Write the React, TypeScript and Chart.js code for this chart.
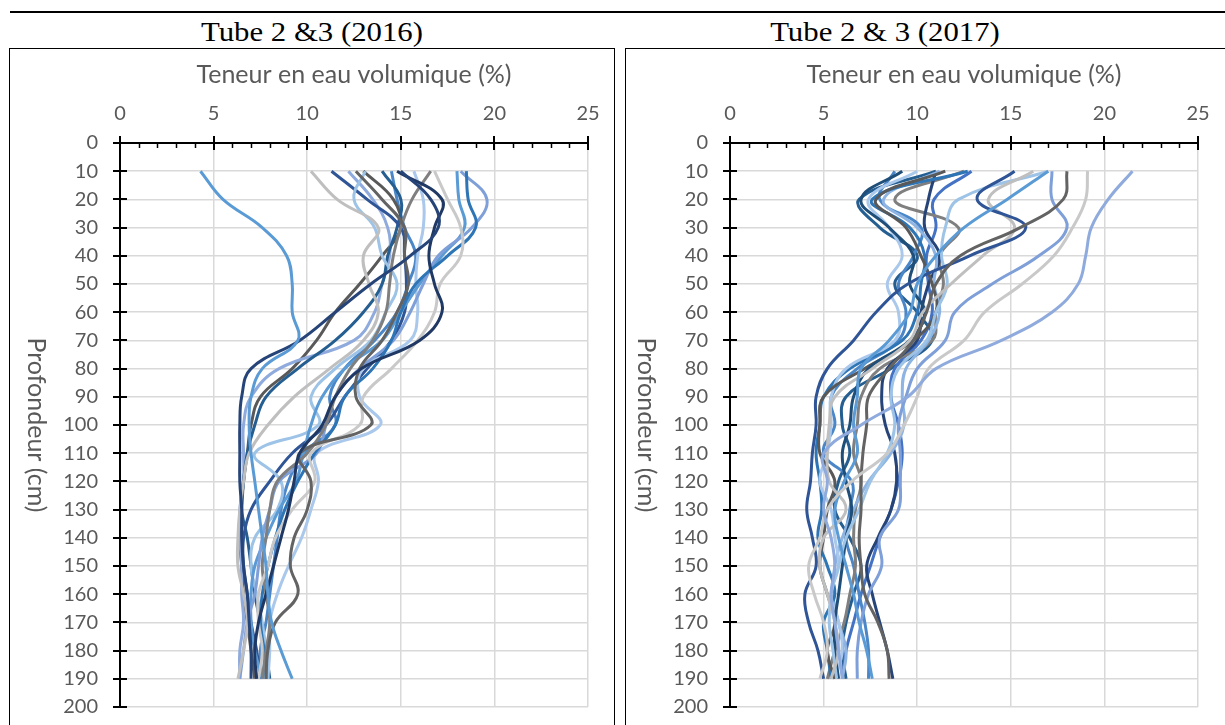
import React, { useEffect, useRef } from 'react';
import { Chart, registerables } from 'chart.js';

Chart.register(...registerables);

// ---------- shared axes ----------
const depths = [10, 20, 30, 40, 50, 60, 70, 80, 90, 100, 110, 120, 130, 140, 150, 160, 170, 180, 190];
const xTickValues = [0, 5, 10, 15, 20, 25];
const yTickValues = [0, 10, 20, 30, 40, 50, 60, 70, 80, 90, 100, 110, 120, 130, 140, 150, 160, 170, 180, 190, 200];
const xTitle = 'Teneur en eau volumique (%)';
const yTitle = 'Profondeur (cm)';
const title2016 = 'Tube 2 &3 (2016)';
const title2017 = 'Tube 2 & 3 (2017)';

// ---------- 2016 profiles (water content %, one value per depth) ----------
const s16_01 = [4.3, 5.5, 7.6, 8.9, 9.2, 9.2, 9.5, 7.6, 7.0, 6.9, 7.0, 7.2, 7.4, 7.6, 7.8, 7.9, 8.1, 8.6, 9.2];
const s16_02 = [15.0, 16.6, 17.0, 15.5, 13.4, 11.5, 9.6, 7.0, 6.5, 6.4, 6.4, 6.4, 6.5, 6.5, 6.6, 6.8, 6.9, 7.0, 7.0];
const s16_03 = [14.8, 17.2, 16.8, 16.5, 16.8, 17.2, 16.0, 12.9, 11.5, 10.8, 9.6, 9.3, 9.0, 8.6, 8.2, 7.8, 7.4, 7.2, 7.3];
const s16_04 = [12.6, 14.0, 15.2, 15.2, 15.4, 14.8, 14.0, 12.8, 12.6, 13.4, 9.6, 10.2, 10.0, 9.3, 9.1, 9.5, 8.3, 7.9, 7.8];
const s16_05 = [10.2, 11.6, 13.8, 13.0, 13.3, 13.8, 13.0, 11.2, 9.3, 7.9, 6.9, 6.6, 6.4, 6.3, 6.3, 6.6, 6.8, 6.6, 6.3];
const s16_06 = [16.8, 17.5, 18.2, 18.2, 17.1, 16.8, 15.9, 14.5, 13.0, 12.8, 10.2, 10.4, 9.2, 8.3, 7.9, 7.4, 7.4, 7.6, 7.4];
const s16_07 = [16.6, 15.6, 15.0, 14.6, 14.4, 14.2, 13.5, 12.3, 11.5, 11.0, 10.0, 8.4, 8.0, 7.8, 7.6, 7.8, 8.0, 7.8, 7.6];
const s16_08 = [18.5, 18.6, 19.0, 17.5, 15.8, 15.0, 14.5, 13.5, 12.0, 11.5, 10.4, 9.5, 8.8, 8.3, 7.9, 7.6, 7.5, 7.7, 7.8];
const s16_09 = [18.2, 19.6, 18.8, 17.0, 16.2, 15.5, 14.6, 12.8, 11.5, 11.0, 10.5, 8.5, 8.0, 7.6, 7.4, 7.2, 6.8, 6.6, 6.4];
const s16_10 = [18.0, 18.1, 18.4, 17.2, 16.0, 15.0, 14.0, 12.0, 10.8, 10.2, 9.8, 9.4, 8.5, 7.8, 7.2, 7.0, 7.0, 7.2, 7.6];
const s16_11 = [13.1, 12.5, 13.6, 14.0, 14.8, 14.2, 13.4, 11.5, 10.2, 10.6, 7.2, 8.6, 8.4, 7.2, 7.0, 7.3, 7.6, 7.8, 7.9];
const s16_12 = [15.7, 16.2, 16.2, 15.9, 15.8, 15.9, 15.5, 13.0, 12.8, 13.9, 10.5, 10.6, 10.2, 9.7, 9.0, 8.4, 8.0, 8.0, 7.9];
const s16_13 = [11.3, 13.2, 15.0, 15.2, 15.3, 15.2, 14.5, 13.2, 12.0, 11.0, 9.2, 8.0, 7.0, 6.6, 6.6, 6.8, 7.0, 7.3, 7.5];
const s16_14 = [14.0, 15.0, 14.8, 14.3, 14.0, 13.0, 11.5, 9.5, 7.8, 7.2, 6.8, 6.6, 6.5, 6.8, 7.0, 7.2, 7.5, 7.8, 8.0];
const s16_15 = [12.2, 13.5, 14.3, 14.4, 14.0, 13.6, 12.5, 8.5, 7.0, 6.6, 6.6, 6.6, 6.4, 6.4, 6.5, 6.5, 6.6, 6.4, 6.4];
const s16_16 = [13.0, 14.6, 15.0, 14.0, 12.8, 11.5, 10.5, 9.2, 7.5, 7.0, 6.8, 6.6, 6.5, 6.4, 6.5, 6.6, 6.8, 7.0, 7.2];
const s16_17 = [14.5, 14.8, 15.2, 15.8, 15.4, 14.8, 13.6, 12.0, 11.2, 11.5, 9.8, 9.0, 8.6, 8.4, 8.2, 8.0, 7.8, 7.5, 7.6];

const series2016 = [s16_01, s16_02, s16_03, s16_04, s16_05, s16_06, s16_07, s16_08, s16_09, s16_10, s16_11, s16_12, s16_13, s16_14, s16_15, s16_16, s16_17];
const colors2016 = ['#5B9BD5', '#264478', '#1F3864', '#636363', '#BFBFBF', '#C9C9C9', '#7F7F7F', '#2E75B6', '#7F9FD9', '#5B9BD5', '#9DC3E6', '#A9C8EB', '#2F5597', '#255E91', '#8FAADC', '#595959', '#4A86C8'];

// ---------- 2017 profiles ----------
const s17_01 = [21.5, 20.2, 19.3, 19.0, 18.6, 17.2, 14.5, 11.0, 9.5, 7.0, 5.0, 5.2, 5.0, 5.4, 5.6, 5.4, 5.6, 5.8, 6.0];
const s17_02 = [19.1, 19.0, 18.3, 17.3, 15.6, 13.6, 12.5, 10.6, 10.0, 9.3, 8.4, 6.5, 5.2, 4.8, 4.2, 4.5, 5.0, 5.2, 4.8];
const s17_03 = [18.0, 17.8, 15.5, 12.3, 11.0, 10.5, 9.8, 8.5, 7.4, 7.3, 7.1, 7.0, 7.0, 6.9, 7.0, 7.2, 7.9, 8.4, 8.5];
const s17_04 = [17.0, 14.8, 12.5, 11.0, 10.0, 9.6, 8.5, 7.0, 6.8, 6.6, 6.8, 6.1, 5.6, 5.8, 6.2, 6.6, 6.9, 7.3, 7.6];
const s17_05 = [15.2, 13.2, 15.8, 12.8, 9.5, 7.8, 6.6, 5.2, 4.6, 4.6, 4.4, 4.3, 4.1, 4.4, 4.6, 4.0, 4.2, 4.7, 5.0];
const s17_06 = [17.2, 17.2, 18.0, 16.5, 14.0, 12.0, 11.5, 10.0, 9.4, 9.0, 9.1, 9.1, 9.0, 8.0, 8.1, 7.4, 7.0, 6.8, 6.8];
const s17_07 = [16.2, 13.8, 15.2, 13.5, 11.8, 10.3, 9.6, 7.6, 5.6, 5.3, 5.2, 5.3, 6.2, 5.0, 4.8, 5.2, 5.6, 5.8, 5.4];
const s17_08 = [17.0, 12.2, 11.5, 11.3, 11.6, 11.0, 10.5, 9.0, 8.6, 8.8, 8.4, 7.5, 6.9, 6.2, 5.8, 5.4, 5.3, 5.5, 5.7];
const s17_09 = [9.2, 7.0, 8.5, 9.8, 9.6, 10.4, 9.6, 7.4, 6.6, 6.4, 6.0, 6.2, 6.5, 6.2, 6.0, 5.8, 5.6, 5.6, 5.8];
const s17_10 = [11.5, 7.8, 9.4, 10.2, 10.8, 11.0, 9.8, 7.2, 5.0, 4.8, 4.8, 5.6, 5.2, 5.0, 4.8, 5.2, 5.6, 5.2, 5.6];
const s17_11 = [10.0, 7.4, 8.5, 9.2, 8.4, 9.0, 8.8, 6.2, 5.4, 5.4, 5.2, 4.8, 5.4, 5.6, 5.8, 5.4, 5.8, 6.0, 5.6];
const s17_12 = [12.7, 7.6, 9.6, 10.4, 10.2, 10.0, 9.2, 6.4, 5.0, 4.8, 4.6, 4.8, 4.9, 4.7, 5.2, 5.6, 5.0, 5.2, 5.4];
const s17_13 = [11.2, 8.2, 10.0, 11.0, 10.9, 11.2, 10.6, 9.4, 9.2, 9.3, 8.6, 7.4, 6.6, 6.0, 5.6, 5.5, 5.8, 6.2, 6.0];
const s17_14 = [11.0, 10.6, 10.4, 11.2, 10.6, 10.2, 10.0, 8.4, 8.1, 8.3, 8.8, 8.9, 8.6, 7.9, 7.3, 7.6, 8.0, 8.4, 8.7];
const s17_15 = [12.5, 8.8, 12.2, 11.2, 11.4, 11.0, 10.8, 8.0, 7.0, 6.8, 6.6, 7.0, 6.7, 6.6, 6.7, 6.4, 6.1, 5.6, 5.2];
const s17_16 = [8.8, 8.0, 10.2, 9.8, 9.0, 9.4, 9.0, 6.8, 5.4, 5.6, 5.0, 6.5, 6.4, 6.2, 6.6, 6.9, 7.2, 7.4, 7.4];
const s17_17 = [12.9, 10.9, 11.0, 10.5, 10.6, 10.8, 10.2, 8.8, 8.6, 9.0, 9.2, 9.0, 8.6, 8.0, 7.5, 7.0, 6.6, 6.2, 6.0];
const s17_18 = [11.0, 6.9, 8.0, 10.0, 8.8, 10.0, 10.8, 8.6, 6.2, 6.0, 6.4, 5.8, 5.6, 6.4, 7.0, 6.6, 6.2, 6.0, 6.2];

const series2017 = [s17_01, s17_02, s17_03, s17_04, s17_05, s17_06, s17_07, s17_08, s17_09, s17_10, s17_11, s17_12, s17_13, s17_14, s17_15, s17_16, s17_17, s17_18];
const colors2017 = ['#8FAADC', '#C9C9C9', '#636363', '#5B9BD5', '#2F5597', '#7F9FD9', '#BFBFBF', '#9DC3E6', '#1F4E79', '#595959', '#A9C8EB', '#2E75B6', '#8DB4E2', '#264478', '#7F7F7F', '#4A86C8', '#4472C4', '#255E91'];

const FONT = 'Lato, "Open Sans", sans-serif';
const TEXT_GREY = '#595959';
const CLEAR = 'rgba(0,0,0,0)';

function makeDecor(titleX: number) {
  return {
    id: 'axisDecor',
    afterDraw(chart: any) {
      const { ctx, chartArea, scales } = chart;
      const xs = scales.x;
      const ys = scales.y;
      const top = chartArea.top;
      const left = chartArea.left;
      ctx.save();
      ctx.strokeStyle = '#000';
      ctx.lineWidth = 1.5;
      for (let v = 0; v <= 25; v++) {
        if (v % 5 === 0) continue;
        const px = Math.round(xs.getPixelForValue(v)) + 0.5;
        ctx.beginPath();
        ctx.moveTo(px, top);
        ctx.lineTo(px, top + 5);
        ctx.stroke();
      }
      ctx.lineWidth = 2;
      xTickValues.forEach((v) => {
        const px = Math.round(xs.getPixelForValue(v));
        ctx.beginPath();
        ctx.moveTo(px, top - 7);
        ctx.lineTo(px, top + 7);
        ctx.stroke();
      });
      yTickValues.forEach((v) => {
        const py = Math.round(ys.getPixelForValue(v));
        ctx.beginPath();
        ctx.moveTo(left - 7, py);
        ctx.lineTo(left + 7, py);
        ctx.stroke();
      });
      ctx.translate(titleX, (chartArea.top + chartArea.bottom) / 2);
      ctx.rotate(Math.PI / 2);
      ctx.fillStyle = TEXT_GREY;
      ctx.font = `25px ${FONT}`;
      ctx.textAlign = 'center';
      ctx.textBaseline = 'middle';
      ctx.fillText(yTitle, 0, 0);
      ctx.restore();
    },
  };
}

function ProfileChart(props: { series: number[][]; colors: string[]; width: number; height: number; axisW: number; titleX: number }) {
  const ref = useRef<HTMLCanvasElement | null>(null);
  useEffect(() => {
    if (!ref.current) return;
    const datasets = props.series.map((vals, i) => ({
      data: vals.map((v, j) => ({ x: v, y: depths[j] })),
      borderColor: props.colors[i],
      backgroundColor: props.colors[i],
      borderWidth: 3,
      showLine: true,
      tension: 0.4,
      pointRadius: 0,
      fill: false,
    }));
    const chart = new Chart(ref.current, {
      type: 'scatter',
      data: { datasets },
      options: {
        animation: false,
        responsive: false,
        maintainAspectRatio: false,
        layout: { padding: { left: 0, top: 0, right: props.width - props.axisW - 468, bottom: 18 } },
        plugins: { legend: { display: false }, tooltip: { enabled: false } },
        scales: {
          x: {
            type: 'linear',
            position: 'top',
            min: 0,
            max: 25,
            ticks: { stepSize: 5, color: TEXT_GREY, font: { family: FONT, size: 20 }, padding: 0 },
            grid: { color: '#D9D9D9', lineWidth: 1.5, drawTicks: true, tickLength: 17, tickColor: CLEAR },
            border: { color: '#000', width: 2 },
            title: { display: true, text: xTitle, color: TEXT_GREY, font: { family: FONT, size: 25 }, padding: { top: 10, bottom: 0 } },
            afterFit: (s: any) => { s.height = 93; },
          },
          y: {
            type: 'linear',
            reverse: true,
            min: 0,
            max: 200,
            ticks: { stepSize: 10, color: TEXT_GREY, font: { family: FONT, size: 20 }, padding: 0 },
            grid: { color: '#D9D9D9', lineWidth: 1.5, drawTicks: true, tickLength: 22, tickColor: CLEAR },
            border: { color: '#000', width: 2 },
            afterFit: (s: any) => { s.width = props.axisW; },
          },
        },
      },
      plugins: [makeDecor(props.titleX)],
    } as any);
    return () => chart.destroy();
  }, []);
  return <canvas ref={ref} width={props.width} height={props.height} style={{ display: 'block', width: props.width, height: props.height }} />;
}

const titleStyle: React.CSSProperties = {
  position: 'absolute',
  top: 19,
  fontFamily: '"Liberation Serif", "Times New Roman", serif',
  fontWeight: 400,
  fontSize: 27,
  lineHeight: '27px',
  color: '#000',
  whiteSpace: 'nowrap',
  transform: 'translateX(-50%) scaleX(1.14)',
};

export default function App() {
  return (
    <div style={{ position: 'fixed', left: 0, top: 0, width: 1225, height: 725, overflow: 'hidden', background: '#fff' }}>
      <div style={{ position: 'absolute', left: 10, top: 11, width: 1215, height: 2, background: '#000' }} />
      <div style={{ ...titleStyle, left: 312 }}>{title2016}</div>
      <div style={{ ...titleStyle, left: 885 }}>{title2017}</div>
      <div style={{ position: 'absolute', left: 9, top: 48, width: 604, height: 700, border: '1.5px solid #000' }} />
      <div style={{ position: 'absolute', left: 625, top: 48, width: 700, height: 700, border: '1.5px solid #000' }} />
      <div style={{ position: 'absolute', left: 10, top: 50 }}>
        <ProfileChart series={series2016} colors={colors2016} width={603} height={675} axisW={110} titleX={26} />
      </div>
      <div style={{ position: 'absolute', left: 627, top: 50 }}>
        <ProfileChart series={series2017} colors={colors2017} width={598} height={675} axisW={103} titleX={19} />
      </div>
    </div>
  );
}
